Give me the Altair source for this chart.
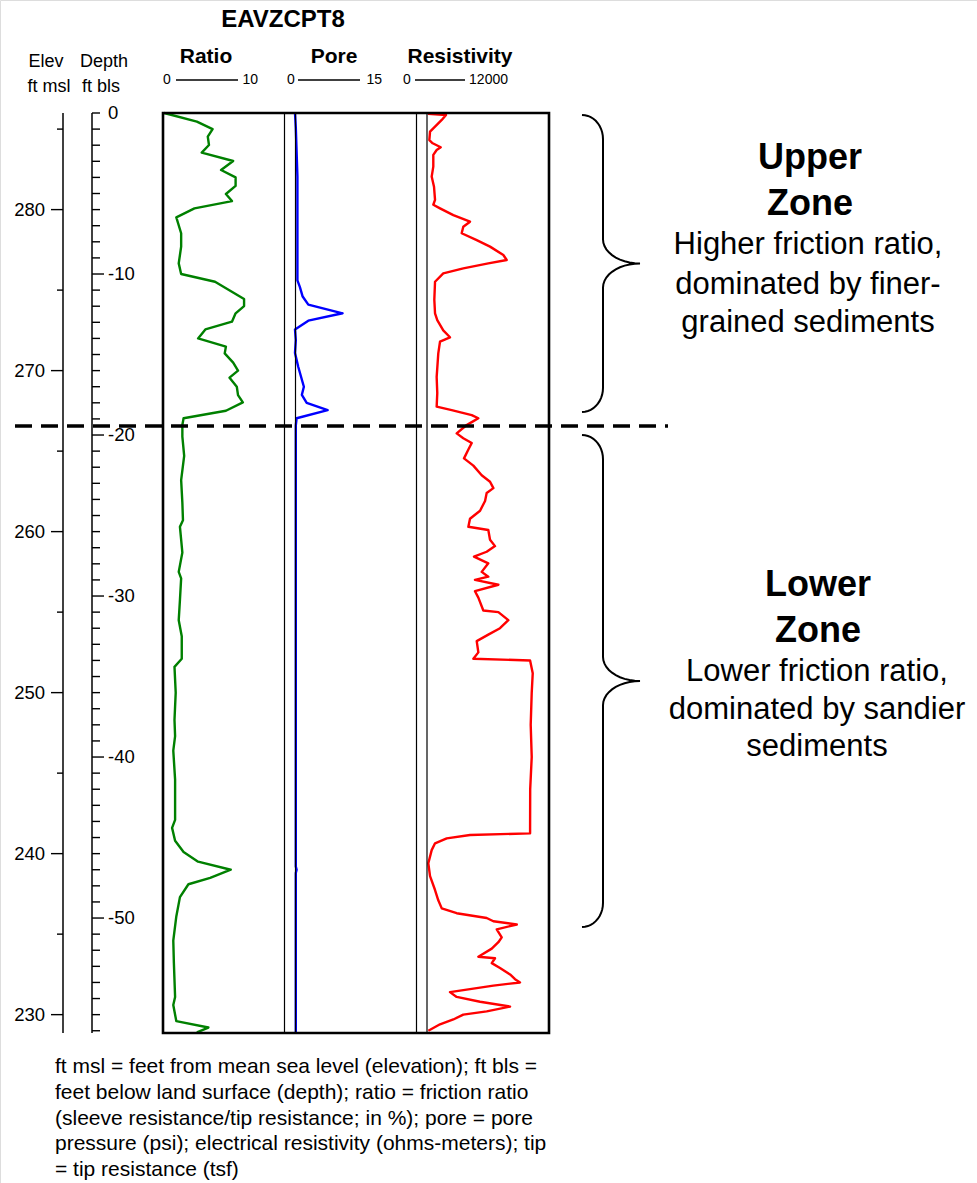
import altair as alt
import numpy as np
import pandas as pd

FONT = "Liberation Sans"

# ---------------- data ----------------
RATIO_DEPTH = [0, -0.54, -1.0, -1.47, -1.99, -2.46, -2.98, -3.54, -4.0, -4.53, -5.03, -5.47, -5.92,
               -6.48, -7.47, -8.3, -9.34, -10.0, -10.48, -11.55, -11.99, -12.44, -12.96, -13.44,
               -14.0, -14.51, -14.93, -15.5, -16.0, -16.44, -17.0, -17.52, -17.97, -18.49, -18.96,
               -19.38, -20.1, -21.3, -22.8, -24.2, -25.3, -25.7, -27.3, -28.5, -28.9, -30.25,
               -31.5, -32.5, -33.9, -34.4, -36.0, -37.7, -38.7, -39.6, -41.4, -43.9, -44.4, -45.2,
               -45.9, -46.5, -47.0, -47.5, -47.9, -48.7, -49.9, -51.4, -52.8, -54.9, -55.4, -56.4,
               -56.8, -57.1]
RATIO_VAL = [0.1, 2.8, 4.1, 3.7, 3.8, 3.2, 5.8, 4.8, 6.0, 6.0, 5.2, 5.7, 2.6,
             1.1, 1.5, 1.5, 1.3, 1.5, 4.3, 6.7, 6.7, 6.0, 5.7, 3.5,
             2.9, 5.2, 5.1, 5.8, 6.2, 5.5, 6.1, 6.2, 6.6, 5.2, 1.7,
             1.6, 1.6, 1.75, 1.5, 1.6, 1.65, 1.4, 1.6, 1.3, 1.5, 1.4,
             1.3, 1.55, 1.55, 0.95, 1.05, 0.95, 1.0, 0.85, 1.0, 1.0, 0.75, 1.0,
             1.7, 2.9, 5.6, 3.9, 2.1, 1.4, 1.1, 0.85, 0.9, 1.0, 0.85, 1.1,
             3.75, 2.8]

PORE_DEPTH = [0, -0.9, -3.95, -7.47, -10.4, -10.8, -11.4, -11.9, -12.44, -12.9, -13.44, -14.1,
              -14.9, -15.76, -17.0, -17.5, -18.0, -18.45, -18.96, -19.4, -30.0, -46.8, -47.0,
              -47.2, -57.1]
PORE_VAL = [0.0, 0.1, 0.3, 0.3, 0.3, 0.6, 0.95, 1.65, 5.9, 1.65, 0.0, 0.1,
            0.0, 0.4, 1.1, 0.85, 1.45, 4.05, 0.2, 0.1, 0.1, 0.1, 0.2,
            0.1, 0.1]

RES_DEPTH = [-0.05, -0.12, -0.43, -1.16, -1.68, -1.88, -2.13, -2.3, -2.6, -3.33, -3.95, -4.58,
             -5.4, -5.7, -5.92, -6.34, -6.75, -7.06, -7.47, -7.9, -8.3, -8.82, -9.13, -9.34,
             -9.65, -9.96, -10.48, -11.6, -12.44, -12.86, -13.5, -13.93, -14.2, -14.93, -16.4,
             -17.4, -18.24, -18.45, -18.76, -18.96, -19.2, -19.38, -19.9, -20.2, -20.5, -20.9,
             -21.45, -21.9, -22.5, -22.9, -23.3, -23.6, -24.1, -24.7, -25.2, -25.7, -25.9,
             -26.5, -26.9, -27.25, -27.55, -27.97, -28.5, -28.8, -29.0, -29.3, -29.7, -30.1,
             -30.9, -31.0, -31.5, -32.0, -32.4, -32.8, -33.5, -33.9, -34.0, -34.8, -36.0,
             -38.0, -40.0, -42.0, -44.5, -44.74, -44.84, -45.05, -45.36, -45.78, -46.6, -47.4,
             -48.26, -48.9, -49.4, -49.7, -50.0, -50.2, -50.4, -50.7, -51.2, -51.5, -51.9,
             -52.4, -52.5, -52.8, -53.1, -53.5, -53.8, -54.0, -54.2, -54.6, -54.9, -55.2,
             -55.5, -55.8, -56.0, -56.3, -56.6, -57.0]
RES_VAL = [100, 1870, 1450, 300, 230, 560, 1350, 950, 620, 620, 460, 690,
           790, 620, 1280, 2590, 4230, 3570, 3410, 4890, 6200, 7510, 7840, 6030,
           3570, 1600, 790, 720, 790, 1010, 1600, 2260, 1280, 1110, 950,
           1010, 950, 2430, 4400, 5050, 4400, 3900, 2920, 3570, 4400, 4070,
           3640, 4560, 5380, 6200, 6530, 5870, 5710, 5220, 4230, 4070, 6030,
           6200, 6690, 5870, 4620, 6030, 5380, 6030, 4720, 7020, 4720, 5050,
           5540, 7020, 8000, 7180, 6030, 4890, 5050, 4560, 10140, 10400, 10300,
           10200, 10300, 10150, 10140, 10140, 4230, 1940, 790, 460, 130, 300,
           790, 1110, 1450, 2920, 5870, 6530, 8830, 6860, 7350, 7020, 6370,
           5050, 6690, 6370, 7180, 8170, 8660, 9150, 6530, 2260, 2920, 5220,
           8170, 5870, 3570, 2590, 1280, 130]

DEPTH_BOTTOM = -57.14
LAND_ELEV = 286                      # elevation (ft msl) of depth 0
ELEV_TICKS = [285, 280, 275, 270, 265, 260, 255, 250, 245, 240, 235, 230]
ELEV_LABELS = [280, 270, 260, 250, 240, 230]
DEPTH_TICKS = list(range(0, -58, -1))
DEPTH_LABELS = [0, -10, -20, -30, -40, -50]
BOUNDARY_DEPTH = [-19.44]
ZONE_NAMES = ["upper", "lower"]
ZONE_TOP = [-0.12, -20.0]
ZONE_BOTTOM = [-18.57, -50.56]

TITLE = "EAVZCPT8"
TRACKS = ["Ratio", "Pore", "Resistivity"]
TRACK_MAX = ["10", "15", "12000"]
FOOTNOTE = [
    "ft msl = feet from mean sea level (elevation); ft bls =",
    "feet below land surface (depth); ratio = friction ratio",
    "(sleeve resistance/tip resistance; in %); pore = pore",
    "pressure (psi); electrical resistivity (ohms-meters); tip",
    "= tip resistance (tsf)",
]

# ---------------- geometry / styling ----------------
TOP, BOT = 113, 1033
yscale = alt.Scale(domain=[0, DEPTH_BOTTOM], range=[TOP, BOT], nice=False, zero=False)
Y = lambda f="depth:Q": alt.Y(f, scale=yscale, axis=None)


def curve(depth, val, dom, rng, color):
    df = pd.DataFrame({"depth": depth, "v": val, "i": range(len(val))})
    return alt.Chart(df).mark_line(color=color, strokeWidth=2.4, strokeJoin="round").encode(
        x=alt.X("v:Q", scale=alt.Scale(domain=dom, range=rng, nice=False, zero=False), axis=None),
        y=Y(), order="i:Q")


ratio = curve(RATIO_DEPTH, RATIO_VAL, [0, 10], [163, 284], "#008000")
pore = curve(PORE_DEPTH, PORE_VAL, [0, 15], [295, 416], "#0000FF")
res = curve(RES_DEPTH, RES_VAL, [0, 12000], [427, 549], "#FF0000")

one = pd.DataFrame({"a": [0]})


def vrule(x, w=1.2):
    return alt.Chart(one).mark_rule(color="black", strokeWidth=w).encode(
        x=alt.value(x), y=alt.value(TOP), y2=alt.value(BOT))


dividers = [vrule(284.5), vrule(295.5), vrule(416.5), vrule(427)]
box = alt.Chart(one).mark_rect(filled=False, stroke="black", strokeWidth=2.6).encode(
    x=alt.value(163), x2=alt.value(549), y=alt.value(TOP), y2=alt.value(BOT))

# elevation axis
elev_line = vrule(63, 1.5)
edf = pd.DataFrame({"elev": ELEV_TICKS})
edf["depth"] = edf["elev"] - LAND_ELEV
edf["major"] = edf["elev"].isin(ELEV_LABELS)
elev_minor = alt.Chart(edf[~edf.major]).mark_rule(color="black", strokeWidth=1.4).encode(
    x=alt.value(57), x2=alt.value(63), y=Y())
elev_major = alt.Chart(edf[edf.major]).mark_rule(color="black", strokeWidth=1.4).encode(
    x=alt.value(51), x2=alt.value(63), y=Y())
elev_lab = alt.Chart(edf[edf.major]).mark_text(font=FONT, fontSize=18.5, align="right",
                                               baseline="middle", color="black").encode(
    x=alt.value(45), y=Y(), text="elev:N")

# depth axis
depth_line = vrule(92, 1.5)
ddf = pd.DataFrame({"depth": DEPTH_TICKS})
ddf["major"] = ddf["depth"].isin(DEPTH_LABELS) & (ddf["depth"] != 0)
depth_minor = alt.Chart(ddf[~ddf.major]).mark_rule(color="black", strokeWidth=1.4).encode(
    x=alt.value(92), x2=alt.value(100), y=Y())
depth_major = alt.Chart(ddf[ddf.major]).mark_rule(color="black", strokeWidth=1.4).encode(
    x=alt.value(92), x2=alt.value(104), y=Y())
dl = pd.DataFrame({"depth": DEPTH_LABELS})
depth_lab = alt.Chart(dl).mark_text(font=FONT, fontSize=18.5, align="left",
                                    baseline="middle", color="black").encode(
    x=alt.value(108), y=Y(), text="depth:N")

# zone boundary
boundary = alt.Chart(pd.DataFrame({"depth": BOUNDARY_DEPTH})).mark_rule(
    color="black", strokeWidth=3.5, strokeDash=[17, 9]).encode(
    x=alt.value(15), x2=alt.value(668), y=Y())

# braces (shape drawn in a 0..58 horizontal unit space, depth vertically)
rows = []
R = 1.5
t = np.linspace(0, np.pi / 2, 12)
for name, top, bot in zip(ZONE_NAMES, ZONE_TOP, ZONE_BOTTOM):
    mid = (top + bot) / 2
    pts = []
    pts += list(zip(21 * np.sin(t), top - R * (1 - np.cos(t))))
    pts += list(zip(21 + 37 * (1 - np.cos(t)), mid + R * (1 - np.sin(t))))
    pts += list(zip(21 + 37 * (1 - np.cos(t[::-1])), mid - R * (1 - np.sin(t[::-1]))))
    pts += list(zip(21 * np.sin(t[::-1]), bot + R * (1 - np.cos(t[::-1]))))
    for k, (bx, d) in enumerate(pts):
        rows.append({"zone": name, "bx": bx, "depth": d, "i": k})
braces = alt.Chart(pd.DataFrame(rows)).mark_line(color="black", strokeWidth=2).encode(
    x=alt.X("bx:Q", scale=alt.Scale(domain=[0, 58], range=[582, 640], nice=False, zero=False), axis=None),
    y=Y(), detail="zone:N", order="i:Q")


def txt(s, x, y, size, bold=False, align="center", baseline="middle"):
    return alt.Chart(one).mark_text(font=FONT, fontSize=size, fontWeight="bold" if bold else "normal",
                                    align=align, baseline=baseline, color="black").encode(
        x=alt.value(x), y=alt.value(y), text=alt.value(s))


def hrule(x1, x2, y, w=1.3):
    return alt.Chart(one).mark_rule(color="black", strokeWidth=w).encode(
        x=alt.value(x1), x2=alt.value(x2), y=alt.value(y))


texts = [
    txt(TITLE, 283, 20, 24, True),
    txt("Elev", 46, 62, 18), txt("ft msl", 49, 87, 18),
    txt("Depth", 104, 62, 18), txt("ft bls", 101, 87, 18),
    txt(TRACKS[0], 206, 57, 21, True), txt(TRACKS[1], 334, 57, 21, True), txt(TRACKS[2], 460, 57, 21, True),
    txt("0", 163, 80, 14, align="left"), hrule(176, 238, 80), txt(TRACK_MAX[0], 258, 80, 14, align="right"),
    txt("0", 287, 80, 14, align="left"), hrule(298, 360, 80), txt(TRACK_MAX[1], 382, 80, 14, align="right"),
    txt("0", 403, 80, 14, align="left"), hrule(415, 465, 80), txt(TRACK_MAX[2], 508, 80, 14, align="right"),
    txt("Upper", 810, 158, 36, True), txt("Zone", 810, 204, 36, True),
    txt("Higher friction ratio,", 808, 245, 31), txt("dominated by finer-", 808, 285, 31),
    txt("grained sediments", 808, 323, 31),
    txt("Lower", 818, 585, 36, True), txt("Zone", 818, 631, 36, True),
    txt("Lower friction ratio,", 817, 672, 31), txt("dominated by sandier", 817, 710, 31),
    txt("sediments", 817, 747, 31),
]
for k, line in enumerate(FOOTNOTE):
    texts.append(txt(line, 55, 1067 + 25.8 * k, 21, align="left"))

layers = ([ratio, pore, res] + dividers + [box, elev_line, elev_minor, elev_major, elev_lab,
                                           depth_line, depth_minor, depth_major, depth_lab,
                                           boundary, braces] + texts)

chart = alt.layer(*layers).resolve_scale(x="independent").properties(
    width=977, height=1183, autosize=alt.AutoSizeParams(type="none"), padding=0
).configure_view(stroke=None).configure(background="white")

chart.save("out.html", embed_options={"renderer": "svg", "actions": False})
